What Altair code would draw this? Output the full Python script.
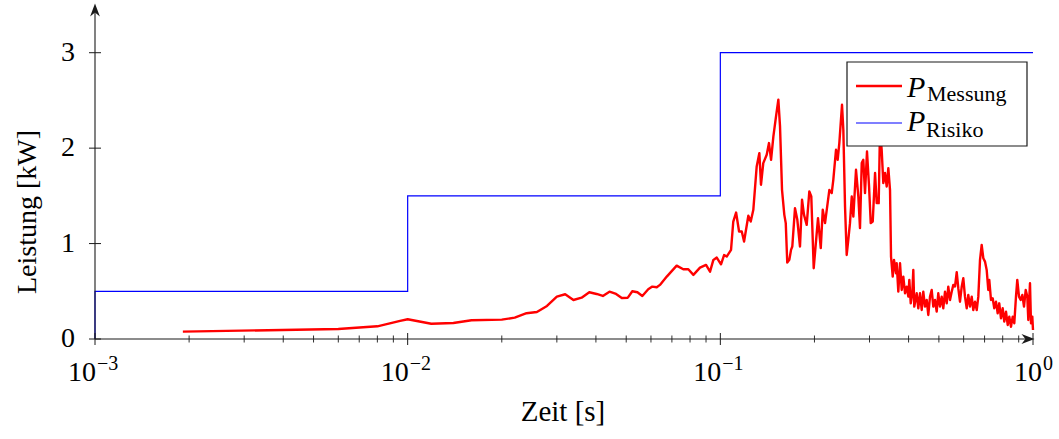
import altair as alt
import pandas as pd

time_s = [
    0.00191, 0.0060, 0.0080, 0.00946, 0.0100, 0.0119, 0.0140, 0.0160, 0.0200, 0.0220,
    0.0240, 0.0259, 0.0279, 0.0300, 0.0319, 0.0339, 0.0360, 0.0381, 0.0402, 0.0421,
    0.0442, 0.0464, 0.0484, 0.0506, 0.0523, 0.0543, 0.0563, 0.0588, 0.0606, 0.0626,
    0.0641, 0.0674, 0.0725, 0.0761, 0.0790, 0.0820, 0.0861, 0.0900, 0.0927, 0.0950,
    0.0974, 0.1005, 0.1028, 0.1048, 0.1082, 0.1100, 0.1123, 0.1148, 0.1171, 0.1191,
    0.1229, 0.1251, 0.1275, 0.1307, 0.1333, 0.1349, 0.1372, 0.1407, 0.1431, 0.1453,
    0.1478, 0.1507, 0.1533, 0.1552, 0.1575, 0.1602, 0.1619, 0.1637, 0.1662, 0.1683,
    0.1699, 0.1733, 0.1763, 0.1798, 0.1825, 0.1852, 0.1889, 0.1926, 0.1954, 0.1989,
    0.2053, 0.2095, 0.2126, 0.2162, 0.2232, 0.2271, 0.2298, 0.2344, 0.2373, 0.2402,
    0.2450, 0.2474, 0.2505, 0.2536, 0.2566, 0.2598, 0.2632, 0.2663, 0.2716, 0.2763,
    0.2797, 0.2833, 0.2866, 0.2902, 0.2945, 0.2990, 0.3027, 0.3072, 0.3125, 0.3163,
    0.3210, 0.3241, 0.3281, 0.3321, 0.3363, 0.3405, 0.3446, 0.3489, 0.3515, 0.3559,
    0.3593, 0.3646, 0.3665, 0.3709, 0.3756, 0.3803, 0.3848, 0.3897, 0.3946, 0.3993,
    0.4022, 0.4064, 0.4111, 0.4142, 0.4172, 0.4247, 0.4297, 0.4351, 0.4406, 0.4458,
    0.4514, 0.4571, 0.4625, 0.4684, 0.4742, 0.4799, 0.4859, 0.4920, 0.4978, 0.5041,
    0.5105, 0.5165, 0.5231, 0.5297, 0.5359, 0.5427, 0.5495, 0.5561, 0.5631, 0.5702,
    0.5769, 0.5841, 0.5916, 0.5985, 0.6060, 0.6138, 0.6210, 0.6288, 0.6368, 0.6443,
    0.6524, 0.6607, 0.6685, 0.6769, 0.6853, 0.6936, 0.7022, 0.7110, 0.7194, 0.7247,
    0.7339, 0.7431, 0.7519, 0.7614, 0.7709, 0.7800, 0.7900, 0.8000, 0.8094, 0.8197,
    0.8300, 0.8398, 0.8503, 0.8611, 0.8713, 0.8822, 0.8907, 0.9020, 0.9134, 0.9244,
    0.9359, 0.9478, 0.9590, 0.9660, 0.9781, 0.9854, 0.9949, 1.0000,
]
power_kw = [
    0.077, 0.105, 0.133, 0.190, 0.207, 0.160, 0.168, 0.196, 0.203, 0.224,
    0.270, 0.283, 0.346, 0.444, 0.469, 0.409, 0.433, 0.490, 0.472, 0.451,
    0.496, 0.472, 0.430, 0.433, 0.500, 0.490, 0.451, 0.521, 0.549, 0.542,
    0.567, 0.654, 0.769, 0.731, 0.731, 0.672, 0.748, 0.776, 0.706, 0.829,
    0.853, 0.783, 0.880, 0.864, 0.934, 1.231, 1.325, 1.126, 1.126, 1.021,
    1.291, 1.231, 1.354, 1.808, 1.948, 1.616, 1.843, 1.931, 2.053, 1.878,
    2.123, 2.333, 2.508, 2.228, 1.563, 1.301, 1.214, 0.800, 0.829, 0.934,
    0.969, 1.371, 1.249, 0.969, 1.459, 1.301, 1.196, 1.546, 1.493, 0.742,
    1.266, 0.952, 1.354, 1.214, 1.563, 1.529, 1.668, 1.983, 1.878, 2.053,
    2.455, 2.193, 1.388, 0.881, 1.039, 1.214, 1.493, 1.283, 1.773, 1.493,
    1.162, 1.843, 1.878, 1.529, 1.965, 1.598, 1.214, 1.231, 1.739, 1.424,
    1.424, 2.200, 1.983, 1.634, 1.739, 1.598, 1.791, 1.563, 0.864, 0.654,
    0.829, 0.689, 0.794, 0.496, 0.794, 0.514, 0.654, 0.479, 0.549, 0.444,
    0.619, 0.374, 0.479, 0.724, 0.339, 0.479, 0.322, 0.479, 0.304, 0.496,
    0.339, 0.409, 0.252, 0.444, 0.514, 0.339, 0.409, 0.287, 0.479, 0.339,
    0.444, 0.322, 0.496, 0.374, 0.549, 0.409, 0.496, 0.567, 0.550, 0.700,
    0.532, 0.391, 0.549, 0.637, 0.444, 0.322, 0.462, 0.339, 0.444, 0.304,
    0.391, 0.304, 0.444, 0.829, 0.986, 0.847, 0.811, 0.724, 0.514, 0.619,
    0.409, 0.427, 0.322, 0.391, 0.270, 0.374, 0.217, 0.322, 0.182, 0.287,
    0.147, 0.234, 0.129, 0.234, 0.165, 0.444, 0.619, 0.444, 0.409, 0.462,
    0.339, 0.514, 0.444, 0.199, 0.584, 0.165, 0.234, 0.094,
]

# ---- risk threshold (step function) ----
risk_time_s = [0.001, 0.001, 0.01, 0.01, 0.1, 0.1, 1.0]
risk_kw = [0.0, 0.5, 0.5, 1.5, 1.5, 3.0, 3.0]

# ---- axes ----
y_ticks = [0, 1, 2, 3]
y_tick_labels = ["0", "1", "2", "3"]
x_major = [0.001, 0.01, 0.1, 1.0]
x_exponents = ["\u22123", "\u22122", "\u22121", "0"]
x_minor = [0.002, 0.003, 0.004, 0.005, 0.006, 0.007, 0.008, 0.009,
           0.02, 0.03, 0.04, 0.05, 0.06, 0.07, 0.08, 0.09,
           0.2, 0.3, 0.4, 0.5, 0.6, 0.7, 0.8, 0.9]

series_names = ["Messung", "Risiko"]
x_title = "Zeit [s]"
y_title = "Leistung [kW]"

FONT = "Liberation Serif"
INK = "#1a1a1a"
W, H = 938, 334

xs = alt.Scale(type="log", domain=[0.001, 1], nice=False)
ys = alt.Scale(domain=[0, 3.5], nice=False, zero=False)

meas = pd.DataFrame({"t": time_s, "p": power_kw})
risk = pd.DataFrame({"t": risk_time_s, "p": risk_kw, "i": list(range(len(risk_kw)))})
major = pd.DataFrame({"t": x_major, "e": x_exponents})
minor = pd.DataFrame({"t": x_minor})
yt = pd.DataFrame({"v": y_ticks, "lab": y_tick_labels})
one = pd.DataFrame({"a": [0]})

X = lambda: alt.X("t:Q", scale=xs, axis=None)

red = alt.Chart(meas).mark_line(color="#ff0000", strokeWidth=2.4, strokeJoin="round").encode(
    x=X(), y=alt.Y("p:Q", scale=ys, axis=None),
)
blue = alt.Chart(risk).mark_line(color="#0000ff", strokeWidth=1.2).encode(
    x=X(), y=alt.Y("p:Q", scale=ys, axis=None), order="i:Q",
)

x_axis_line = alt.Chart(one).mark_rule(color=INK, strokeWidth=1.1).encode(
    x=alt.value(0), x2=alt.value(W - 2), y=alt.value(H)
)
y_axis_line = alt.Chart(one).mark_rule(color=INK, strokeWidth=1.1).encode(
    x=alt.value(0), y=alt.value(2), y2=alt.value(H)
)

maj_ticks = alt.Chart(major).mark_rule(color=INK, strokeWidth=1).encode(
    x=X(), y=alt.value(H - 6), y2=alt.value(H + 6),
)
min_ticks = alt.Chart(minor).mark_rule(color=INK, strokeWidth=0.9).encode(
    x=X(), y=alt.value(H - 3.5), y2=alt.value(H + 3.5),
)
y_tick_marks = alt.Chart(yt).mark_rule(color=INK, strokeWidth=1).encode(
    y=alt.Y("v:Q", scale=ys, axis=None), x=alt.value(-6), x2=alt.value(6),
)
y_labels = alt.Chart(yt).mark_text(
    font=FONT, fontSize=28, align="right", baseline="middle", color="black"
).encode(y=alt.Y("v:Q", scale=ys, axis=None), x=alt.value(-20), text="lab:N")

arrow_right = alt.Chart(one).mark_point(
    shape="M 1 0 L -1 -0.75 L -0.4 0 L -1 0.75 Z", filled=True, color=INK, size=170, opacity=1
).encode(x=alt.value(W - 5), y=alt.value(H))
arrow_up = alt.Chart(one).mark_point(
    shape="M 0 -1 L -0.75 1 L 0 0.4 L 0.75 1 Z", filled=True, color=INK, size=170, opacity=1
).encode(x=alt.value(0), y=alt.value(5))

neg = alt.datum.t < 1
pos = alt.datum.t >= 1
base_neg = alt.Chart(major).transform_filter(neg).mark_text(
    font=FONT, fontSize=28, align="right", baseline="alphabetic", dx=1, color="black"
).encode(x=X(), y=alt.value(376), text=alt.value("10"))
exp_neg = alt.Chart(major).transform_filter(neg).mark_text(
    font=FONT, fontSize=20, align="left", baseline="alphabetic", dx=2, color="black"
).encode(x=X(), y=alt.value(365), text="e:N")
base_pos = alt.Chart(major).transform_filter(pos).mark_text(
    font=FONT, fontSize=28, align="right", baseline="alphabetic", dx=9, color="black"
).encode(x=X(), y=alt.value(376), text=alt.value("10"))
exp_pos = alt.Chart(major).transform_filter(pos).mark_text(
    font=FONT, fontSize=20, align="left", baseline="alphabetic", dx=10, color="black"
).encode(x=X(), y=alt.value(365), text="e:N")

xtitle = alt.Chart(one).mark_text(
    font=FONT, fontSize=29, align="center", baseline="middle", color="black"
).encode(x=alt.value(468), y=alt.value(407), text=alt.value(x_title))
ytitle = alt.Chart(one).mark_text(
    font=FONT, fontSize=28, align="center", baseline="middle", angle=270, color="black"
).encode(x=alt.value(-67), y=alt.value(207), text=alt.value(y_title))

# legend (drawn by hand so that subscripts look right)
leg_box = alt.Chart(one).mark_rect(fill="white", stroke=INK, strokeWidth=1.2).encode(
    x=alt.value(752), x2=alt.value(932), y=alt.value(57), y2=alt.value(141)
)
leg_red = alt.Chart(one).mark_rule(color="#ff0000", strokeWidth=2.4).encode(
    x=alt.value(761), x2=alt.value(807), y=alt.value(81)
)
leg_blue = alt.Chart(one).mark_rule(color="#0000ff", strokeWidth=1.2).encode(
    x=alt.value(761), x2=alt.value(807), y=alt.value(118)
)
leg_p1 = alt.Chart(one).mark_text(
    font=FONT, fontSize=30, fontStyle="italic", align="left", baseline="alphabetic", color="black"
).encode(x=alt.value(812), y=alt.value(92), text=alt.value("P"))
leg_p2 = alt.Chart(one).mark_text(
    font=FONT, fontSize=30, fontStyle="italic", align="left", baseline="alphabetic", color="black"
).encode(x=alt.value(812), y=alt.value(126), text=alt.value("P"))
leg_s1 = alt.Chart(one).mark_text(
    font=FONT, fontSize=22, align="left", baseline="alphabetic", color="black"
).encode(x=alt.value(832), y=alt.value(96), text=alt.value(series_names[0]))
leg_s2 = alt.Chart(one).mark_text(
    font=FONT, fontSize=22, align="left", baseline="alphabetic", color="black"
).encode(x=alt.value(831), y=alt.value(132), text=alt.value(series_names[1]))

chart = alt.layer(
    red, blue, x_axis_line, y_axis_line, maj_ticks, min_ticks, y_tick_marks, y_labels,
    arrow_right, arrow_up, base_neg, exp_neg, base_pos, exp_pos, xtitle, ytitle,
    leg_box, leg_red, leg_blue, leg_p1, leg_p2, leg_s1, leg_s2,
).properties(
    width=W, height=H,
    autosize=alt.AutoSizeParams(type="none"),
    padding={"left": 95, "top": 5, "right": 26, "bottom": 100},
    background="white",
).configure_view(stroke=None)

chart.save("out.html", embed_options={"renderer": "svg", "actions": False})
